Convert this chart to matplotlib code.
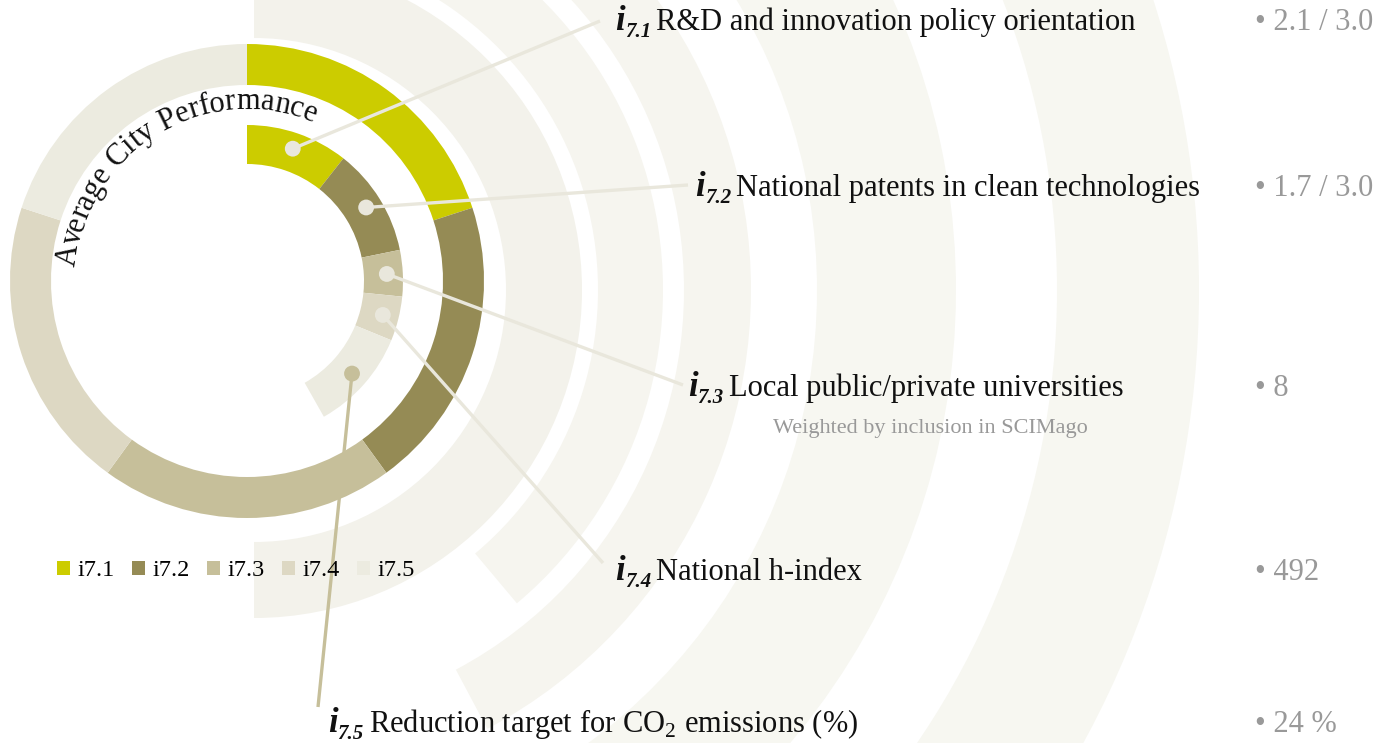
import numpy as np
import matplotlib.pyplot as plt
from matplotlib.patches import Wedge, Patch
from matplotlib.textpath import text_to_path
from matplotlib.font_manager import FontProperties

plt.rcParams['font.family'] = ['Liberation Serif', 'DejaVu Serif']
plt.rcParams['mathtext.fontset'] = 'custom'
plt.rcParams['mathtext.rm'] = 'Liberation Serif'

# indicator data
codes = ['i7.1', 'i7.2', 'i7.3', 'i7.4', 'i7.5']
names = ['R&D and innovation policy orientation',
         'National patents in clean technologies',
         'Local public/private universities',
         'National h-index',
         'Reduction target for CO$_2$ emissions (%)']
values = ['2.1 / 3.0', '1.7 / 3.0', '8', '492', '24 %']
weights = [1, 1, 1, 1, 1]
city_scores = [0.53, 0.56, 0.24, 0.23, 0.53]
colors = ['#cccc00', '#958b55', '#c6bf9a', '#ddd8c3', '#ecebe0']
line_colors = ['#e9e7dc', '#e9e7dc', '#e9e7dc', '#e9e7dc', '#c6bf9a']

W, H = 1387, 743
fig = plt.figure(figsize=(W / 100, H / 100), dpi=100)
ax = fig.add_axes([0, 0, 1, 1])

cx, cy = 247, 462

# faint background arcs: (inner, outer, start angle, colour)
bg_center = (254, 453)
bg_rings = [(252, 328, -90, '#f3f2eb'), (344, 409, -50, '#f6f5ef'),
            (430, 497, -62, '#f6f5ef'), (563, 702, -66, '#f7f7f1'),
            (803, 945, -90, '#f7f7f1')]
for r_in, r_out, a0, c in bg_rings:
    ax.add_patch(Wedge(bg_center, r_out, a0, 90, width=r_out - r_in,
                       facecolor=c, edgecolor='none', zorder=0))

# outer ring: equal weights
ax.pie(weights, radius=237, center=(cx, cy), startangle=90, counterclock=False,
       colors=colors, wedgeprops=dict(width=41, edgecolor='none'))

# inner ring: city score inside each weight
frac = np.array(city_scores) * np.array(weights) / sum(weights)
inner, _ = ax.pie(frac, radius=156, center=(cx, cy), startangle=90, counterclock=False,
                  normalize=False, colors=colors,
                  wedgeprops=dict(width=39, edgecolor='none'))

# label anchors (baseline, left of the "i")
label_xy = [(615, 713), (695, 547), (688, 347), (615, 163), (328, 11)]
line_end = [(600, 722), (688, 558), (683, 358), (603, 180), (318, 36)]
value_x = 1255

for k, w in enumerate(inner):
    mid = np.deg2rad((w.theta1 + w.theta2) / 2)
    r_mid = 140
    dx, dy = cx + r_mid * np.cos(mid), cy + r_mid * np.sin(mid)
    ax.plot([dx, line_end[k][0]], [dy, line_end[k][1]], color=line_colors[k],
            lw=2.4, solid_capstyle='butt', zorder=3)
    ax.scatter([dx], [dy], s=130, color=line_colors[k], edgecolor='none', zorder=4)

    lx, ly = label_xy[k]
    t_i = ax.text(lx, ly, 'i', fontsize=25, fontweight='bold', style='italic',
                  color='#111111', va='baseline', ha='left', zorder=5)
    t_sub = ax.annotate(codes[k][1:], xy=(1, 0), xycoords=t_i, xytext=(0, 1),
                        textcoords='offset points', fontsize=15, fontweight='bold',
                        style='italic', color='#111111', va='baseline', ha='left',
                        zorder=5)
    ax.annotate(names[k], xy=(1, ly), xycoords=(t_sub, 'data'), xytext=(4, 0),
                textcoords='offset points', fontsize=22, color='#111111',
                va='baseline', ha='left', zorder=5)
    ax.text(value_x, ly, '\u2022 ' + values[k], fontsize=22,
            color='#999999', va='baseline', ha='left', zorder=5)

ax.text(930, 310, 'Weighted by inclusion in SCIMago', fontsize=16,
        color='#999999', ha='center', va='baseline', zorder=5)

# curved heading along the gap between the rings
title = 'Average City Performance'
fp = FontProperties(family='Liberation Serif', size=22)
r_txt = 172
start = np.deg2rad(175.5)
scale = 100 / 72
for i, ch in enumerate(title):
    w_pre = text_to_path.get_text_width_height_descent(title[:i], fp, ismath=False)[0] if i else 0
    w_ch = text_to_path.get_text_width_height_descent(ch, fp, ismath=False)[0]
    s = (w_pre + w_ch / 2) * scale
    th = start - s / r_txt
    ax.text(cx + r_txt * np.cos(th), cy + r_txt * np.sin(th), ch, fontproperties=fp,
            rotation=np.rad2deg(th) - 90, rotation_mode='anchor',
            ha='center', va='baseline', color='#111111', zorder=5)

handles = [Patch(facecolor=c, edgecolor='none') for c in colors]
ax.legend(handles, codes, ncol=5, frameon=False, loc='center left',
          bbox_to_anchor=(57 / W, 172 / H), fontsize=17.5, handlelength=0.55,
          handleheight=0.55, handletextpad=0.3, columnspacing=0.7,
          borderaxespad=0, borderpad=0)

ax.set_xlim(0, W)
ax.set_ylim(0, H)
ax.set_aspect('auto')
ax.axis('off')

fig.savefig('out.png', dpi=100, facecolor='white')
